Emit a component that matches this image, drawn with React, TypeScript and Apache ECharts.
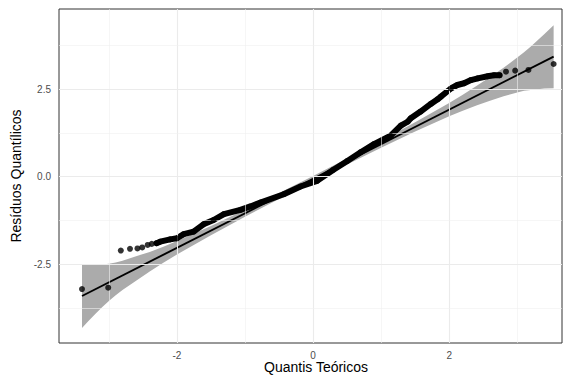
import React, { useEffect, useRef } from "react";
import * as echarts from "echarts";

// Axis ticks / gridlines
const xTickValues = [-2, 0, 2];
const xMinorValues = [-3, -1, 1, 3];
const yTickValues = [-2.5, 0, 2.5];
const yMinorValues = [-3.75, -1.25, 1.25, 3.75];

// Sample quantile points (theoretical, residual)
const lowTailPoints = [
  [-3.395, -3.21], [-3.01, -3.17], [-2.825, -2.11], [-2.69, -2.06],
  [-2.58, -2.05], [-2.51, -2.02], [-2.43, -1.95], [-2.37, -1.92],
];
const denseRunPoints = [
  [-2.3, -1.9], [-2.246, -1.857], [-2.1, -1.79], [-2.0, -1.76], [-1.9, -1.64],
  [-1.755, -1.57], [-1.61, -1.36], [-1.461, -1.237], [-1.31, -1.07],
  [-1.068, -0.95], [-0.92, -0.85], [-0.773, -0.74], [-0.43, -0.5],
  [-0.184, -0.28], [0.06, -0.12], [0.3, 0.2], [0.504, 0.45], [0.7, 0.7],
  [0.895, 0.93], [1.14, 1.17], [1.29, 1.46], [1.39, 1.57], [1.436, 1.67],
  [1.58, 1.86], [1.73, 2.08], [1.83, 2.21], [1.878, 2.286], [2.025, 2.52],
  [2.12, 2.62], [2.22, 2.67], [2.32, 2.76], [2.42, 2.81], [2.565, 2.87],
  [2.66, 2.9], [2.74, 2.9],
];
const highTailPoints = [
  [2.835, 3.0], [2.97, 3.03], [3.165, 3.05], [3.535, 3.22],
];

// Reference line endpoints
const qqLine = [[-3.395, -3.409], [3.535, 3.431]];

// Confidence band
const bandX = [-3.395, -3.3, -3.2, -3.1, -3.0, -2.9, -2.8, -2.6, -2.4, -2.2, -2.0, -1.5, -1.0, -0.5, 0, 0.5, 1.0, 1.5, 2.0, 2.2, 2.4, 2.6, 2.8, 3.0, 3.1, 3.2, 3.3, 3.4, 3.535];
const bandUpper = [-2.5, -2.52, -2.52, -2.51, -2.49, -2.45, -2.4, -2.27, -2.15, -2.0, -1.84, -1.41, -0.945, -0.467, 0.022, 0.521, 1.029, 1.553, 2.106, 2.343, 2.591, 2.848, 3.116, 3.403, 3.552, 3.72, 3.9, 4.08, 4.33];
const bandLower = [-4.32, -4.12, -3.92, -3.73, -3.55, -3.39, -3.24, -2.97, -2.71, -2.46, -2.22, -1.67, -1.145, -0.637, -0.138, 0.351, 0.829, 1.293, 1.726, 1.883, 2.031, 2.168, 2.296, 2.403, 2.452, 2.48, 2.5, 2.52, 2.53];

const FONT = "'Liberation Sans', Arial, Helvetica, sans-serif";

export default function App() {
  const ref = useRef<HTMLDivElement>(null);
  useEffect(() => {
    if (!ref.current) return;
    document.body.style.margin = "0";
    document.body.style.overflow = "hidden";
    const chart = echarts.init(ref.current, undefined, { renderer: "svg" });
    const gridMarks: any[] = [];
    xTickValues.forEach((v) => gridMarks.push({ xAxis: v, lineStyle: { color: "#ebebeb", width: 1.1, type: "solid" } }));
    xMinorValues.forEach((v) => gridMarks.push({ xAxis: v, lineStyle: { color: "#f0f0f0", width: 0.6, type: "solid" } }));
    yTickValues.forEach((v) => gridMarks.push({ yAxis: v, lineStyle: { color: "#ebebeb", width: 1.1, type: "solid" } }));
    yMinorValues.forEach((v) => gridMarks.push({ yAxis: v, lineStyle: { color: "#f0f0f0", width: 0.6, type: "solid" } }));

    const allPoints = [...lowTailPoints, ...denseRunPoints, ...highTailPoints];

    chart.setOption({
      animation: false,
      backgroundColor: "#ffffff",
      grid: {
        left: 59,
        right: 1,
        top: 9,
        bottom: 35,
        show: true,
        borderColor: "#333333",
        borderWidth: 1,
        backgroundColor: "#ffffff",
      },
      graphic: [
        {
          type: "text",
          left: 264,
          top: 360,
          style: { text: "Quantis Teóricos", font: "14px " + FONT, fill: "#000000" },
          silent: true,
        },
      ],
      xAxis: {
        type: "value",
        min: -3.733,
        max: 3.658,
        axisLine: { show: false },
        axisTick: { show: true, customValues: xTickValues, length: 4, lineStyle: { color: "#333333", width: 1 } },
        axisLabel: {
          customValues: xTickValues,
          fontFamily: FONT,
          fontSize: 10,
          color: "#4d4d4d",
          margin: 7,
          formatter: (v: number) => String(v),
        },
        splitLine: { show: false },
      },
      yAxis: {
        type: "value",
        min: -4.751,
        max: 4.791,
        name: "Resíduos Quantílicos",
        nameLocation: "middle",
        nameGap: 30,
        nameRotate: 90,
        nameTextStyle: { fontFamily: FONT, fontSize: 14, color: "#000000" },
        axisLine: { show: false },
        axisTick: { show: true, customValues: yTickValues, length: 4, lineStyle: { color: "#333333", width: 1 } },
        axisLabel: {
          customValues: yTickValues,
          fontFamily: FONT,
          fontSize: 10,
          color: "#4d4d4d",
          margin: 8,
          formatter: (v: number) => v.toFixed(1),
        },
        splitLine: { show: false },
      },
      series: [
        {
          type: "line",
          data: [],
          z: 1,
          silent: true,
          markLine: {
            silent: true,
            symbol: ["none", "none"],
            label: { show: false },
            emphasis: { disabled: true },
            data: gridMarks,
          },
        },
        {
          type: "custom",
          z: 2,
          silent: true,
          clip: true,
          data: [[0, 0]],
          encode: { x: 0, y: 1 },
          renderItem: (_params: any, api: any) => {
            const pts: number[][] = [];
            for (let i = 0; i < bandX.length; i++) pts.push(api.coord([bandX[i], bandUpper[i]]));
            for (let i = bandX.length - 1; i >= 0; i--) pts.push(api.coord([bandX[i], bandLower[i]]));
            return { type: "polygon", shape: { points: pts }, style: { fill: "#ababab", stroke: null } };
          },
        },
        {
          type: "line",
          z: 3,
          data: qqLine,
          showSymbol: false,
          lineStyle: { color: "#000000", width: 1.9 },
          silent: true,
        },
        {
          type: "line",
          z: 4,
          data: denseRunPoints,
          showSymbol: false,
          lineStyle: { color: "#000000", width: 6, cap: "round", join: "round" },
          silent: true,
        },
        {
          type: "scatter",
          z: 5,
          data: allPoints,
          symbol: "circle",
          symbolSize: 6,
          itemStyle: { color: "#000000" },
          silent: true,
        },
      ],
    });
    return () => chart.dispose();
  }, []);
  return (
    <div style={{ position: "fixed", left: 0, top: 0, width: 563, height: 378, overflow: "hidden" }}>
      <div ref={ref} style={{ width: 563, height: 378 }} />
    </div>
  );
}
